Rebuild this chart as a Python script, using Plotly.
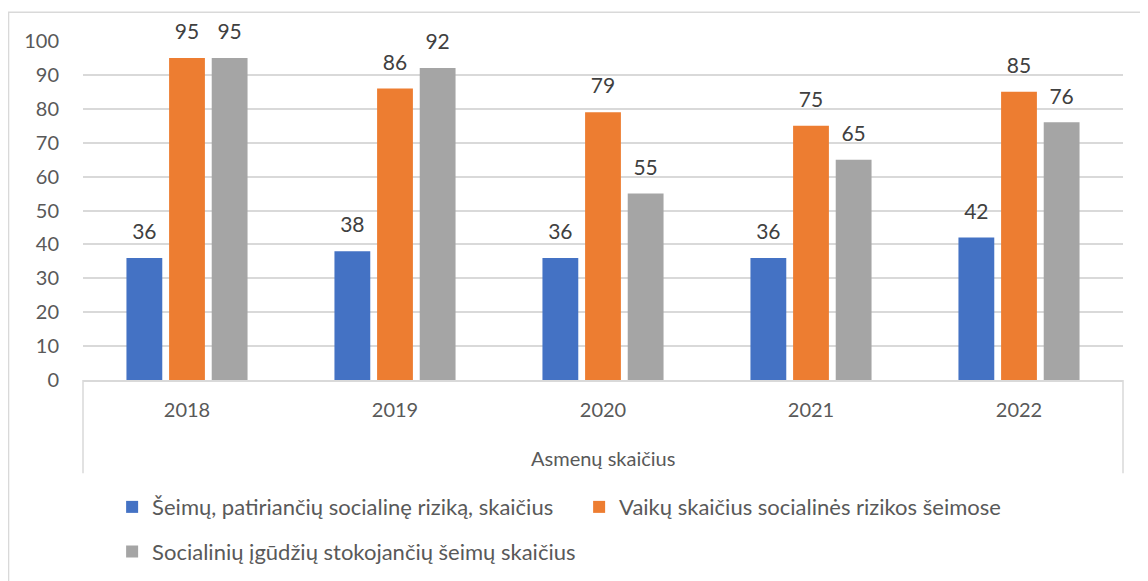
import plotly.graph_objects as go

years = ["2018", "2019", "2020", "2021", "2022"]
group_label = "Asmenų skaičius"
series_names = [
    "Šeimų, patiriančių socialinę riziką, skaičius",
    "Vaikų skaičius socialinės rizikos šeimose",
    "Socialinių įgūdžių stokojančių šeimų skaičius",
]
seimos = [36, 38, 36, 36, 42]
vaikai = [95, 86, 79, 75, 85]
igudziai = [95, 92, 55, 65, 76]

colors = ["#4472C4", "#ED7D31", "#A5A5A5"]
legends = ["legend", "legend", "legend2"]
FONT = "Lato"
TXT = "#595959"
GRID = "#D9D9D9"

fig = go.Figure()
for i, vals in enumerate([seimos, vaikai, igudziai]):
    fig.add_trace(go.Bar(x=years, y=vals, name=series_names[i], offsetgroup=str(i),
                         marker=dict(color=colors[i], line=dict(width=0)),
                         legend=legends[i]))
# data labels, grouped like the bars
for i, vals in enumerate([seimos, vaikai, igudziai]):
    fig.add_trace(go.Scatter(x=years, y=vals, mode="markers+text", offsetgroup=str(i),
                             text=[str(v) for v in vals], textposition="top center",
                             textfont=dict(family=FONT, size=21, color="#404040"),
                             marker=dict(size=20, opacity=0), cliponaxis=False,
                             showlegend=False, hoverinfo="skip"))

# page body has an 8px margin, so the figure is 8px smaller than the window
fig.update_layout(
    width=1140, height=573,
    margin=dict(l=75, r=25, t=33, b=201),
    paper_bgcolor="white", plot_bgcolor="white",
    font=dict(family=FONT, size=20, color=TXT),
    barmode="group", bargap=0.385, bargroupgap=0.16,
    scattermode="group", scattergap=0.385,
    legend=dict(orientation="h", x=0.028, y=0.129, xanchor="left", yanchor="middle",
                yref="container", entrywidth=422, entrywidthmode="pixels",
                font=dict(family=FONT, size=22, color=TXT)),
    legend2=dict(orientation="h", x=0.028, y=0.051, xanchor="left", yanchor="middle",
                 yref="container", font=dict(family=FONT, size=22, color=TXT)),
    xaxis=dict(type="category", showline=True, linecolor=GRID, linewidth=1.5,
               ticks="", automargin=False, ticklabelstandoff=11,
               tickfont=dict(family=FONT, size=20, color=TXT)),
    yaxis=dict(range=[0, 100], dtick=10, gridcolor=GRID, gridwidth=1.5,
               zeroline=False, showline=False, ticks="", ticklabelstandoff=23,
               automargin=False, tickfont=dict(family=FONT, size=20, color=TXT)),
    annotations=[dict(text=group_label, xref="paper", yref="paper", x=0.5, y=-0.23,
                      xanchor="center", yanchor="middle", showarrow=False,
                      font=dict(family=FONT, size=20, color=TXT))],
    shapes=[
        dict(type="rect", xref="paper", yref="paper",
             x0=-0.0716, x1=1.06, y0=-0.75, y1=1.085,
             line=dict(color=GRID, width=1.5), layer="below"),
        dict(type="line", xref="paper", yref="paper", x0=0, x1=0, y0=0, y1=-0.275,
             line=dict(color=GRID, width=1.5)),
        dict(type="line", xref="paper", yref="paper", x0=1, x1=1, y0=0, y1=-0.275,
             line=dict(color=GRID, width=1.5)),
    ],
)

fig.write_html("out.html")
